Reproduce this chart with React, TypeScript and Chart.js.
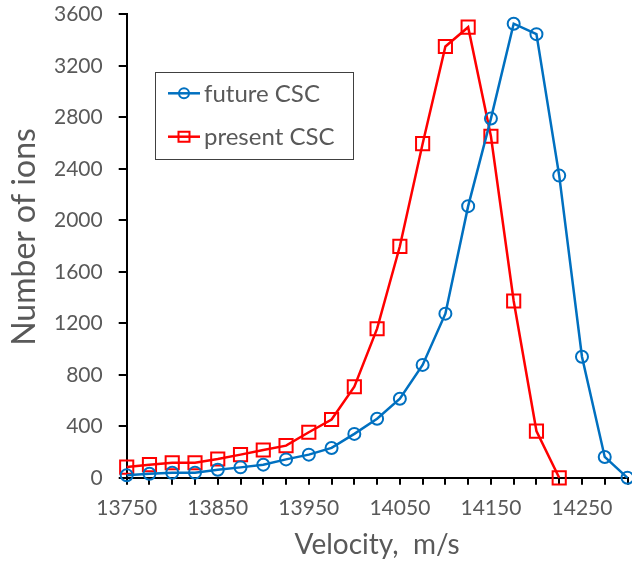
import React, { useEffect, useRef } from "react";
import { Chart, registerables } from "chart.js";

Chart.register(...registerables);

const futureVelocity = [13750, 13775, 13800, 13825, 13850, 13875, 13900, 13925, 13950, 13975, 14000, 14025, 14050, 14075, 14100, 14125, 14150, 14175, 14200, 14225, 14250, 14275, 14300];
const futureIons = [20, 31, 39, 40, 63, 81, 102, 143, 180, 232, 341, 459, 614, 877, 1275, 2110, 2790, 3527, 3446, 2347, 940, 162, 0];

const presentVelocity = [13750, 13775, 13800, 13825, 13850, 13875, 13900, 13925, 13950, 13975, 14000, 14025, 14050, 14075, 14100, 14125, 14150, 14175, 14200, 14225];
const presentIons = [83, 102, 117, 117, 146, 180, 216, 250, 354, 453, 707, 1158, 1798, 2595, 3350, 3500, 2653, 1373, 363, 0];

const xLabelTicks = [13750, 13850, 13950, 14050, 14150, 14250];
const seriesNames = ["future CSC", "present CSC"];
const yTitle = "Number of ions";
const xTitle = "Velocity,  m/s";

const FONT = "Lato, 'Open Sans', sans-serif";
const GREY = "#595959";

const legendPlugin = {
  id: "insideLegend",
  afterDraw(chart: any) {
    const ctx = chart.ctx as CanvasRenderingContext2D;
    ctx.save();
    // legend box
    const bx = 155.5, by = 72.5, bw = 198, bh = 87;
    ctx.fillStyle = "#ffffff";
    ctx.fillRect(bx, by, bw, bh);
    ctx.strokeStyle = "#404040";
    ctx.lineWidth = 1;
    ctx.strokeRect(bx, by, bw, bh);
    const rowY = [93.3, 136.7];
    chart.data.datasets.forEach((ds: any, i: number) => {
      const y = rowY[i];
      ctx.strokeStyle = ds.borderColor;
      ctx.lineWidth = 2.5;
      ctx.beginPath();
      ctx.moveTo(168, y);
      ctx.lineTo(200, y);
      ctx.stroke();
      ctx.lineWidth = 2;
      ctx.beginPath();
      if (ds.pointStyle === "circle") {
        ctx.arc(184, y, 5, 0, Math.PI * 2);
      } else {
        ctx.rect(178.5, y - 5, 11, 10);
      }
      ctx.stroke();
      ctx.fillStyle = GREY;
      ctx.font = `24px ${FONT}`;
      ctx.textAlign = "left";
      ctx.textBaseline = "alphabetic";
      ctx.fillText(ds.label, 204, y + 8.4);
    });
    // y axis title
    ctx.translate(35, 237);
    ctx.rotate(-Math.PI / 2);
    ctx.font = `32px ${FONT}`;
    ctx.fillStyle = GREY;
    ctx.textAlign = "center";
    ctx.textBaseline = "alphabetic";
    ctx.fillText(yTitle, 0, 0);
    ctx.restore();
  },
};

export default function App() {
  const ref = useRef<HTMLCanvasElement>(null);
  useEffect(() => {
    document.body.style.margin = "0";
    const canvas = ref.current;
    if (!canvas) return;
    const chart = new Chart(canvas, {
      type: "line",
      data: {
        datasets: [
          {
            label: seriesNames[0],
            data: futureVelocity.map((x, i) => ({ x, y: futureIons[i] })),
            borderColor: "#0070C0",
            borderWidth: 2.5,
            pointStyle: "circle",
            pointRadius: 6,
            pointBorderWidth: 2,
            pointBorderColor: "#0070C0",
            pointBackgroundColor: "rgba(0,0,0,0)",
            tension: 0,
            clip: false as any,
          },
          {
            label: seriesNames[1],
            data: presentVelocity.map((x, i) => ({ x, y: presentIons[i] })),
            borderColor: "#FF0000",
            borderWidth: 2.5,
            pointStyle: "rect",
            pointRadius: 9.3,
            pointBorderWidth: 2,
            pointBorderColor: "#FF0000",
            pointBackgroundColor: "rgba(0,0,0,0)",
            tension: 0,
            clip: false as any,
          },
        ],
      },
      options: {
        animation: false,
        responsive: false,
        layout: { autoPadding: false, padding: { top: 14.3, right: 4.5, left: 0, bottom: 0 } },
        plugins: { legend: { display: false }, tooltip: { enabled: false } },
        scales: {
          x: {
            type: "linear",
            min: 13750,
            max: 14300,
            afterFit: (s: any) => {
              s.height = 565 - 477.8;
              s.paddingLeft = 0;
              s.paddingRight = 0;
            },
            ticks: {
              stepSize: 25,
              autoSkip: false,
              maxRotation: 0,
              padding: 11,
              color: GREY,
              font: { family: FONT, size: 21 },
              callback: (v: any) => (xLabelTicks.includes(Math.round(Number(v))) ? String(Math.round(Number(v))) : ""),
            },
            grid: { drawOnChartArea: false, color: "#000000", lineWidth: 2, tickLength: 7 },
            border: { display: true, color: "#000000", width: 2 },
            title: {
              display: true,
              text: xTitle,
              color: GREY,
              font: { family: FONT, size: 28 },
              padding: { top: 0, bottom: 3 },
            },
          },
          y: {
            min: 0,
            max: 3600,
            afterFit: (s: any) => {
              s.width = 126.7;
              s.paddingTop = 0;
              s.paddingBottom = 0;
            },
            ticks: {
              stepSize: 400,
              padding: 16,
              color: GREY,
              font: { family: FONT, size: 21 },
              callback: (v: any) => String(v),
            },
            grid: { drawOnChartArea: false, color: "#000000", lineWidth: 2, tickLength: 8 },
            border: { display: true, color: "#000000", width: 2 },
          },
        },
      },
      plugins: [legendPlugin],
    });
    return () => chart.destroy();
  }, []);
  return <canvas ref={ref} width={632} height={565} style={{ display: "block" }} />;
}
